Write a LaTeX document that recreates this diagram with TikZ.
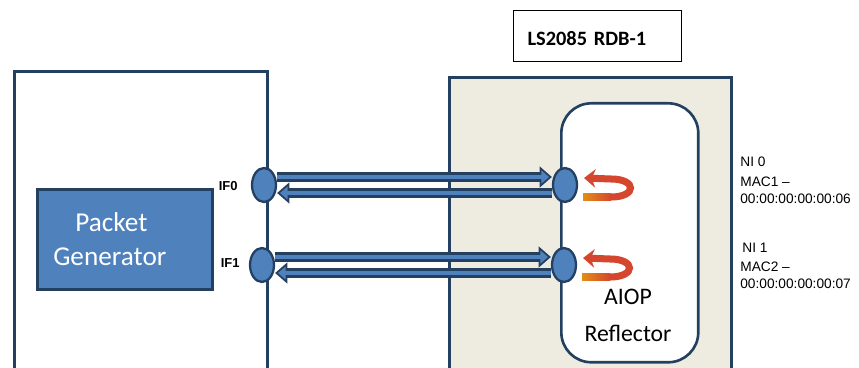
\documentclass[tikz,border=0pt]{standalone}
\usepackage{fontspec}
\setmainfont{Carlito}
\newfontfamily\arialfont{Liberation Sans}
\usepackage{tikz}
\usetikzlibrary{arrows.meta,positioning,shapes.geometric,calc}
\definecolor{framenavy}{RGB}{36,64,97}
\definecolor{portblue}{RGB}{79,129,189}
\definecolor{boardbeige}{RGB}{238,236,225}
\definecolor{loopred}{RGB}{212,70,45}
\definecolor{looporange}{RGB}{226,142,22}
\pgfdeclarelayer{back}
\pgfdeclarelayer{front}
\pgfsetlayers{back,main,front}
\newcommand{\linkarrow}[2]{\draw[linkout] #1 -- #2; \draw[linkin] #1 -- #2;}
\newcommand{\reflectloop}[1]{%
  \draw[loopline] ($(#1)+(18,12)$) -- ($(#1)+(46,12)$)
    .. controls ($(#1)+(72,12)$) and ($(#1)+(72,-6)$) .. ($(#1)+(46,-6)$) -- ($(#1)+(19,-7)$);
  \shade[left color=looporange, right color=loopred] ($(#1)+(18,8.5)$) rectangle ($(#1)+(46,15.5)$);}

\begin{document}
\begin{tikzpicture}[x=0.02cm,y=-0.02cm,>=Latex,
  hostbox/.style={draw=framenavy,line width=1.5pt,inner sep=0pt},
  genbox/.style={draw=framenavy,fill=portblue,line width=1.5pt,inner sep=0pt,text=white,
    font=\fontsize{15.5}{19.3}\selectfont},
  port/.style={ellipse,draw=framenavy,fill=portblue,line width=1.3pt,
    minimum width=0.48cm,minimum height=0.68cm,inner sep=0pt},
  linkout/.style={draw=framenavy,line width=6pt,
    -{Triangle[length=7pt,width=12pt,line width=1pt,fill=portblue]}},
  linkin/.style={draw=portblue,line width=2.8pt,shorten >=5pt},
  loopline/.style={draw=loopred,line width=4pt,-{Stealth[length=6.5pt,width=10.5pt]}},
  iflabel/.style={font=\arialfont\bfseries\fontsize{7.4}{9}\selectfont,inner sep=0pt},
  nitext/.style={font=\arialfont\fontsize{7.8}{9.6}\selectfont,inner sep=0pt,align=left}]
\useasboundingbox (0,0) rectangle (859,368);

\begin{pgfonlayer}{back}
\clip (0,0) rectangle (859,368);
\node[hostbox,anchor=north west,minimum width=5.06cm,minimum height=6.8cm] (hostL) at (13,70) {};
\node[hostbox,fill=boardbeige,anchor=north west,minimum width=5.64cm,minimum height=6.8cm] (rdb) at (448,76) {};
\node[hostbox,fill=white,rounded corners=0.6cm,anchor=north west,minimum width=2.74cm,minimum height=5.18cm] (aiop) at (560,102) {};
\node[font=\fontsize{13.5}{21}\selectfont,align=center,inner sep=0pt,anchor=base] (aioptext) at (628,341) {AIOP\\Reflector};
\node[genbox,anchor=north west,minimum width=3.5cm,minimum height=2cm,text width=3.5cm,align=left] (gen) at (36,188)
  {\hspace*{0.76cm}Packet\\\hspace*{0.32cm}Generator};
\node[draw=black,line width=0.6pt,anchor=north west,minimum width=3.36cm,minimum height=1.02cm,
  inner xsep=0.28cm,inner ysep=0pt,text width=2.8cm,text height=0.38cm,text depth=0cm,align=left,
  font=\bfseries\fontsize{11.6}{13}\selectfont] (title) at (513,10) {LS2085 RDB-1};
\end{pgfonlayer}

\begin{pgfonlayer}{front}
\node[port] (lif0) at (264,185) {};
\node[port] (lif1) at (262,265) {};
\node[port] (rif0) at (565,185) {};
\node[port] (rif1) at (564,265) {};
\end{pgfonlayer}

% links between generator and board
\linkarrow{($(lif0.east)+(0,-8)$)}{($(rif0.west)+(0,-8)$)}
\linkarrow{($(rif0.west)+(0,8)$)}{($(lif0.east)+(0,8)$)}
\linkarrow{($(lif1.east)+(0,-8)$)}{($(rif1.west)+(0,-8)$)}
\linkarrow{($(rif1.west)+(0,8)$)}{($(lif1.east)+(0,8)$)}

% reflection loops
\reflectloop{rif0}
\reflectloop{rif1}

\node[iflabel,anchor=base east] (if0) at (238,191) {IF0};
\node[iflabel,anchor=base east] (if1) at (240,267) {IF1};

\node[nitext,anchor=base west] (ni0) at (740,167) {NI 0};
\node[nitext,anchor=base west] (mac1) at (740,203) {MAC1 –\\00:00:00:00:00:06};
\node[nitext,anchor=base west] (ni1) at (742,252) {NI 1};
\node[nitext,anchor=base west] (mac2) at (740,288) {MAC2 –\\00:00:00:00:00:07};
\end{tikzpicture}
\end{document}
